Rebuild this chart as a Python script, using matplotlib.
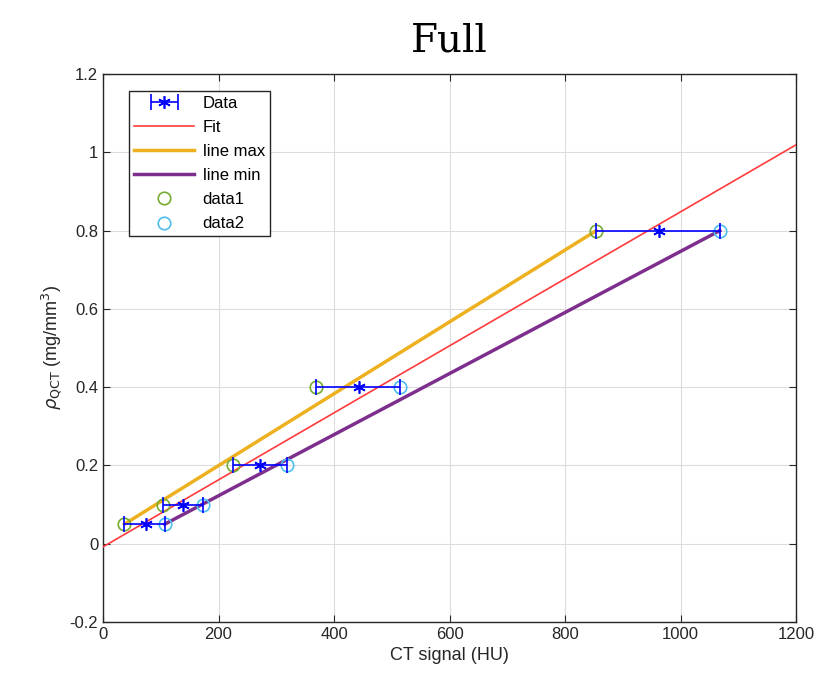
import matplotlib
matplotlib.use("Agg")
import matplotlib.pyplot as plt
from matplotlib.legend_handler import HandlerErrorbar
import numpy as np

# data
rho = [0.05, 0.1, 0.2, 0.4, 0.8]
ct_mean = [74.5, 138.5, 272, 443, 962]
ct_min = [37, 104, 225, 369, 854]
ct_max = [107, 173, 318, 514, 1068]
fit_slope = 0.000856
fit_intercept = -0.008
fit_x = [0, 1200]

plt.rcParams['font.family'] = ['Liberation Sans', 'DejaVu Sans']

fig = plt.figure(figsize=(8.23, 6.90), dpi=100)
ax = fig.add_axes([0.1252, 0.0986, 0.842, 0.794])

ct_mean_a = np.array(ct_mean)
xerr = [ct_mean_a - np.array(ct_min), np.array(ct_max) - ct_mean_a]
eb = ax.errorbar(ct_mean, rho, xerr=xerr, fmt='none', ecolor='#0000FF',
                 elinewidth=1.2, capsize=6, capthick=1.2, zorder=5)
ax.plot(ct_mean, rho, ls='none', marker=(6, 2, 0), color='#0000FF', ms=9, mew=1.2, zorder=6)
fx = np.array(fit_x)
h_fit, = ax.plot(fx, fit_slope * fx + fit_intercept, color='#FF3B3B', lw=1.2, label='Fit', zorder=3)
h_max, = ax.plot([ct_min[0], ct_min[-1]], [rho[0], rho[-1]], color='#EDB120', lw=2.5, label='line max', zorder=3)
h_min, = ax.plot([ct_max[0], ct_max[-1]], [rho[0], rho[-1]], color='#7E2F8E', lw=2.5, label='line min', zorder=3)
h_d1, = ax.plot(ct_min, rho, 'o', mfc='none', mec='#77AC30', ms=9, mew=1.2, label='data1', zorder=4)
h_d2, = ax.plot(ct_max, rho, 'o', mfc='none', mec='#4DBEEE', ms=9, mew=1.2, label='data2', zorder=4)

# legend proxy for data errorbar (with asterisk marker)
proxy = ax.errorbar([np.nan], [np.nan], xerr=[[1], [1]], ls='none', marker=(6, 2, 0),
                    color='#0000FF', ecolor='#0000FF', ms=9, mew=1.2,
                    elinewidth=1.2, capsize=6, capthick=1.2)

ax.set_xlim(0, 1200)
ax.set_ylim(-0.2, 1.2)
ax.set_xticks([0, 200, 400, 600, 800, 1000, 1200])
ax.set_yticks([-0.2, 0, 0.2, 0.4, 0.6, 0.8, 1, 1.2])
ax.set_yticklabels(['-0.2', '0', '0.2', '0.4', '0.6', '0.8', '1', '1.2'])
ax.grid(True, color='#DCDCDC', lw=0.8)
ax.set_axisbelow(True)
ax.tick_params(direction='in', length=5, labelsize=12, colors='#262626', top=True, right=True)
for s in ax.spines.values():
    s.set_color('#262626')
    s.set_linewidth(1.0)

ax.set_xlabel('CT signal (HU)', fontsize=13, color='#262626')
ax.set_ylabel(r'$\rho_{\mathrm{QCT}}$ (mg/mm$^3$)', fontsize=13, color='#262626')
ax.set_title('Full', fontsize=28, family=['DejaVu Serif'], pad=16)

leg = ax.legend([proxy, h_fit, h_max, h_min, h_d1, h_d2],
                ['Data', 'Fit', 'line max', 'line min', 'data1', 'data2'],
                loc='upper left', bbox_to_anchor=(0.026, 0.985), fontsize=12,
                frameon=True, fancybox=False, edgecolor='#262626', framealpha=1,
                borderpad=0.3, labelspacing=0.55, handlelength=3.6, handletextpad=0.5,
                handler_map={type(proxy): HandlerErrorbar(xerr_size=0.8)})
leg.get_frame().set_linewidth(1.0)

fig.savefig('out.png', dpi=100)
